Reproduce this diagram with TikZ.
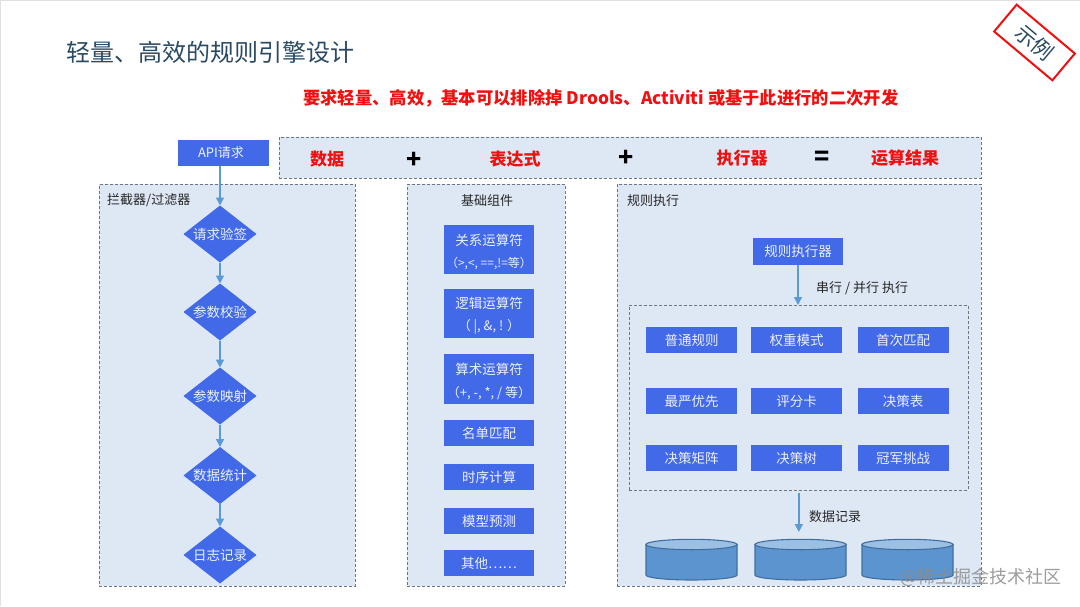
\documentclass[tikz,border=0pt]{standalone}
\usepackage{fontspec}
\setmainfont{Noto Sans CJK SC}
\usetikzlibrary{shapes.geometric,arrows.meta}
\definecolor{panelc}{HTML}{DEE8F5}
\definecolor{boxc}{HTML}{4169E8}
\definecolor{arrowc}{HTML}{5B9BD5}
\definecolor{dashc}{HTML}{6E7780}
\definecolor{titlec}{HTML}{2B4A63}
\definecolor{redc}{HTML}{F01010}
\definecolor{drumline}{HTML}{3F6E9E}
\definecolor{drumtop}{HTML}{9CBFE4}
\definecolor{drumbody}{HTML}{5B94CF}
\newcommand{\fsz}[1]{\fontsize{#1}{#1}\selectfont}
\newcommand{\firstline}{\rule{0pt}{16pt}}
\tikzset{
  panel/.style={draw=dashc,fill=panelc,densely dashed,line width=0.8pt},
  inner frame/.style={draw=dashc,densely dashed,line width=0.7pt},
  bluebox/.style={fill=boxc,draw=none,text=white!90!boxc,minimum width=91pt,minimum height=26pt,inner sep=0pt,outer sep=0pt,align=center,font=\fsz{13.5}},
  decision/.style={diamond,aspect=1.28,fill=boxc,draw=none,text=white!90!boxc,inner sep=0pt,outer sep=0pt,minimum width=73pt,minimum height=57pt,font=\fsz{13.5}},
  flow/.style={draw=arrowc,line width=1.5pt,-{Triangle[width=8pt,length=8pt,fill=arrowc]}},
  label/.style={text=black!85,font=\fsz{13},inner sep=0pt},
  redword/.style={text=redc,font=\fsz{17}\bfseries,inner sep=0pt},
  opsign/.style={text=black,font=\fsz{25}\bfseries,inner sep=0pt},
  drumbox/.style={minimum width=91pt,minimum height=41pt,inner sep=0pt,outer sep=0pt}
}
\newcommand{\drumat}[2]{%
  \begin{scope}[shift={(#2)}]
    \filldraw[draw=drumline,fill=drumbody,line width=1.1pt] (-45.5,-15) -- (-45.5,15.5) arc[start angle=180,end angle=360,x radius=45.5pt,y radius=5pt] -- (45.5,-15) -- cycle;
    \filldraw[draw=drumline,fill=drumtop,line width=1.1pt] (0,-15) ellipse[x radius=45.5pt,y radius=5.2pt];
    \node[drumbox] (#1) at (0,0) {};
  \end{scope}}
\begin{document}
\begin{tikzpicture}[x=1pt,y=-1pt]
\useasboundingbox (0,0) rectangle (1080,606);
\fill[white] (0,0) rectangle (1080,606);
\draw[black!12,line width=1.2pt] (0.5,606) -- (0.5,0.5) -- (1080,0.5);

% Title and notes
\node[anchor=west,inner sep=0pt,text=titlec,font=\fsz{24}] (title) at (66,52.5) {轻量、高效的规则引擎设计};
\node[anchor=west,inner sep=0pt,text=redc,font=\fsz{17.3}\bfseries] (note) at (303,98) {要求轻量、高效，基本可以排除掉 Drools、Activiti 或基于此进行的二次开发};

% Stamp
\node[draw=redc,line width=2pt,rotate=-40,minimum width=76pt,minimum height=35pt,inner sep=0pt,text=titlec,font=\fsz{21}] (stamp) at (1034.5,42.5) {示例};

% Formula band
\node[panel,anchor=north west,minimum width=702pt,minimum height=41pt,inner sep=0pt] (band) at (279,137) {};
\node[redword] (w1) at (327,159) {数据};
\node[opsign] (p1) at (414,160) {+};
\node[redword] (w2) at (515,159.5) {表达式};
\node[opsign] (p2) at (626,158) {+};
\node[redword] (w3) at (742,158.5) {执行器};
\node[opsign] (eq) at (822,158) {=};
\node[redword] (w4) at (905,158.5) {运算结果};

% Panels
\node[panel,anchor=north west,minimum width=256pt,minimum height=401.5pt,inner sep=0pt] (pl) at (99,184) {};
\node[panel,anchor=north west,minimum width=158pt,minimum height=401.5pt,inner sep=0pt] (pm) at (407,184) {};
\node[panel,anchor=north west,minimum width=364.5pt,minimum height=401.5pt,inner sep=0pt] (pr) at (616.5,184) {};
\node[label,anchor=west] (tl) at (107,200.5) {拦截器/过滤器};
\node[label] (tm) at (487,200.5) {基础组件};
\node[label,anchor=west] (tr) at (627,200.5) {规则执行};

% Left flow
\node[bluebox,minimum height=26pt,font=\fsz{13}] (api) at (223.5,152.5) {API请求\hspace*{5pt}};
\node[decision] (d1) at (220,234) {请求验签};
\node[decision] (d2) at (220,312) {参数校验};
\node[decision] (d3) at (220,396) {参数映射};
\node[decision] (d4) at (220,475.5) {数据统计};
\node[decision] (d5) at (220,555) {日志记录};
\draw[flow] (api.south -| d1.north) -- (d1.north);
\draw[flow] (d1) -- (d2);
\draw[flow] (d2) -- (d3);
\draw[flow] (d3) -- (d4);
\draw[flow] (d4) -- (d5);

% Middle column
\node[bluebox,minimum width=90pt,minimum height=49.5pt] (m1) at (489,249.5) {\firstline 关系运算符\\[9pt]{\fsz{12}（>,<, ==,!=等）}};
\node[bluebox,minimum width=90pt,minimum height=49.5pt] (m2) at (489,313.5) {\firstline 逻辑运算符\\[9pt]{\fsz{13}（ |, \&, ! ）}};
\node[bluebox,minimum width=90pt,minimum height=49.5pt] (m3) at (489,379) {\firstline 算术运算符\\[9pt]{\fsz{13}（+, -, *, / 等）}};
\node[bluebox,minimum width=90pt] (m4) at (489,433) {名单匹配};
\node[bluebox,minimum width=90pt] (m5) at (489,477) {时序计算};
\node[bluebox,minimum width=90pt] (m6) at (489,521) {模型预测};
\node[bluebox,minimum width=90pt] (m7) at (489,563) {其他……};

% Right column
\node[bluebox,minimum width=90pt,minimum height=27pt] (exec) at (798,251) {规则执行器};
\node[inner frame,anchor=north west,minimum width=339pt,minimum height=185pt,inner sep=0pt] (rules) at (629,305) {};
\draw[flow] (exec) -- (rules.north -| exec);
\node[label,anchor=west] (serial) at (816,288.5) {串行 / 并行 执行};

\node[bluebox] (r11) at (691.5,340) {普通规则};
\node[bluebox] (r12) at (796.5,340) {权重模式};
\node[bluebox] (r13) at (903,340) {首次匹配};
\node[bluebox] (r21) at (691.5,401) {最严优先};
\node[bluebox] (r22) at (796.5,401) {评分卡};
\node[bluebox] (r23) at (903,401) {决策表};
\node[bluebox] (r31) at (691.5,458) {决策矩阵};
\node[bluebox] (r32) at (796.5,458) {决策树};
\node[bluebox] (r33) at (903,458) {冠军挑战};

\drumat{c1}{691.5,559.5}
\drumat{c2}{800.5,559.5}
\drumat{c3}{907.5,559.5}
\draw[flow,shorten <=2pt,shorten >=7pt] (rules.south) -- (rules.south |- c2.north);
\node[label,anchor=west] (rec) at (809,516.5) {数据记录};

% Watermark
\node[anchor=west,inner sep=0pt,text=black!45,opacity=0.85,font=\fsz{18}] (mark) at (900,577) {@稀土掘金技术社区};
\end{tikzpicture}
\end{document}
